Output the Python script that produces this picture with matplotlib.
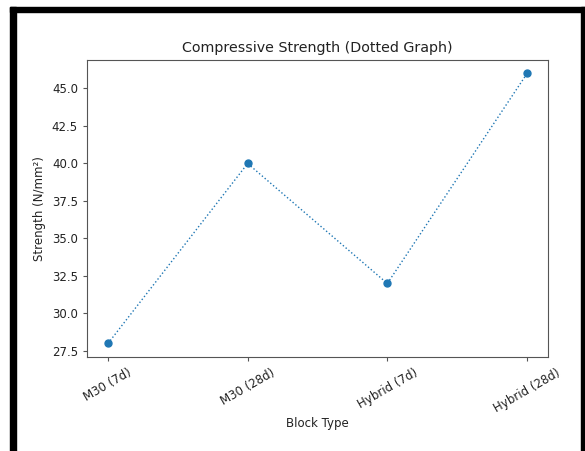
import matplotlib
matplotlib.use("Agg")
import matplotlib.pyplot as plt
from matplotlib.patches import Rectangle

categories = ["M30 (7d)", "M30 (28d)", "Hybrid (7d)", "Hybrid (28d)"]
strength = [28, 40, 32, 46]

W, H = 585, 451
fig = plt.figure(figsize=(W / 100, H / 100), dpi=100)

def fx(px):
    return px / W

def fy(py):
    return 1 - py / H

ax = fig.add_axes([fx(87), fy(357), fx(548) - fx(87), fy(60) - fy(357)])
ax.plot(categories, strength, linestyle=':', marker='o', color='tab:blue',
        linewidth=1, markersize=5)
ax.set_title("Compressive Strength (Dotted Graph)", fontsize=10.3, color='#222222')
ax.set_xlabel("Block Type", fontsize=8.5, labelpad=2, color='#222222')
ax.set_ylabel("Strength (N/mm²)", fontsize=8.5, color='#222222')
ax.tick_params(labelsize=8.5, length=3, labelcolor='#222222', color='#555555')
plt.setp(ax.get_xticklabels(), rotation=30)
for s in ax.spines.values():
    s.set_color('#555555')

# black frame around the screenshot
fig.patches.append(Rectangle((fx(10), fy(451)), fx(6), fy(7) - fy(451),
                             transform=fig.transFigure, color='black', zorder=10))
fig.patches.append(Rectangle((fx(10), fy(12)), fx(585) - fx(10), fy(7) - fy(12),
                             transform=fig.transFigure, color='black', zorder=10))
fig.patches.append(Rectangle((fx(581), fy(451)), fx(4), fy(7) - fy(451),
                             transform=fig.transFigure, color='black', zorder=10))

fig.savefig("out.png", dpi=100)
